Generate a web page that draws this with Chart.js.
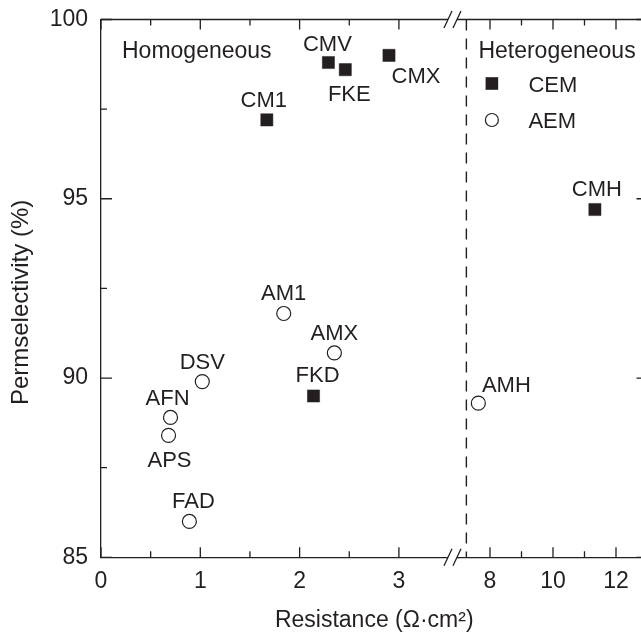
<!DOCTYPE html>
<html>
<head>
<meta charset="utf-8">
<script src="https://cdn.jsdelivr.net/npm/chart.js@4.4.0/dist/chart.umd.min.js"></script>
<style>
html, body { margin: 0; padding: 0; background: #fff; overflow: hidden; }
#wrap { width: 641px; height: 635px; overflow: hidden; position: relative; }
canvas { display: block; }
</style>
</head>
<body>
<div id="wrap"><canvas id="chart" width="660" height="635"></canvas></div>
<script>
// homogeneous membranes (left part of the axis)
const cemNames = ['CM1', 'CMV', 'FKE', 'CMX', 'FKD'];
const cemResistance = [1.67, 2.29, 2.46, 2.90, 2.14];
const cemPerm = [97.2, 98.8, 98.6, 99.0, 89.5];

const aemNames = ['AM1', 'AMX', 'DSV', 'AFN', 'APS', 'FAD'];
const aemResistance = [1.84, 2.35, 1.02, 0.70, 0.68, 0.89];
const aemPerm = [91.8, 90.7, 89.9, 88.9, 88.4, 86.0];

// heterogeneous membranes (right part, after the break)
const hetCemNames = ['CMH'];
const hetCemResistance = [11.33];
const hetCemPerm = [94.7];

const hetAemNames = ['AMH'];
const hetAemResistance = [7.63];
const hetAemPerm = [89.3];

// axis ticks
const xMajorLeft = [0, 1, 2, 3];
const xMinorLeft = [0.5, 1.5, 2.5];
const xMajorRight = [8, 10, 12];
const xMinorRight = [9, 11];
const yMajor = [85, 90, 95, 100];
const yMinor = [87.5, 92.5, 97.5];
const dividerAt = 7.25;

const ink = '#231f20';
const family = 'Liberation Sans, Arial, sans-serif';

// where each name sits relative to its marker: [dx of text centre, dy of baseline]
const labelOffsets = {
	CM1: [-3, -13], CMV: [-1, -12], FKE: [4, 31], CMX: [27, 28], FKD: [4, -14],
	AM1: [0, -13], AMX: [0, -13], DSV: [0, -13], AFN: [-3, -12], APS: [1, 32], FAD: [4, -13],
	CMH: [2, -14], AMH: [28, -11]
};

function pts(xs, ys) {
	return xs.map((x, i) => ({ x: x, y: ys[i] }));
}
function tickList(major, minor) {
	return major.concat(minor).sort((a, b) => a - b).map(v => ({ value: v }));
}

const squareStyle = { pointStyle: 'rect', pointRadius: 8.6, backgroundColor: ink, borderColor: ink, borderWidth: 0.5 };
const circleStyle = { pointStyle: 'circle', pointRadius: 7, backgroundColor: '#fff', borderColor: ink, borderWidth: 1.2 };

const decorations = {
	id: 'decorations',
	beforeDatasetsDraw(chart) {
		const ctx = chart.ctx, a = chart.chartArea;
		const xd = chart.scales.x2.getPixelForValue(dividerAt);
		ctx.save();
		ctx.strokeStyle = ink;
		ctx.lineWidth = 1.4;
		ctx.setLineDash([11, 8]);
		ctx.beginPath();
		ctx.moveTo(xd, a.top);
		ctx.lineTo(xd, a.bottom);
		ctx.stroke();
		ctx.restore();
	},
	afterDraw(chart) {
		const ctx = chart.ctx, a = chart.chartArea;
		const sx = chart.scales.x, sx2 = chart.scales.x2, sy = chart.scales.y;
		ctx.save();
		ctx.strokeStyle = ink;
		ctx.lineWidth = 1.3;
		// top and right frame
		ctx.beginPath();
		ctx.moveTo(a.left, a.top); ctx.lineTo(a.right, a.top);
		ctx.moveTo(a.right, a.top); ctx.lineTo(a.right, a.bottom);
		ctx.stroke();
		// inward tick marks
		ctx.beginPath();
		[[sx, xMajorLeft], [sx2, xMajorRight]].forEach(([s, major]) => {
			s.ticks.forEach(t => {
				const p = s.getPixelForValue(t.value);
				const len = major.includes(t.value) ? 10 : 6;
				ctx.moveTo(p, a.bottom); ctx.lineTo(p, a.bottom - len);
				ctx.moveTo(p, a.top); ctx.lineTo(p, a.top + len);
			});
		});
		sy.ticks.forEach(t => {
			const p = sy.getPixelForValue(t.value);
			const len = yMajor.includes(t.value) ? 11 : 6;
			ctx.moveTo(a.left, p); ctx.lineTo(a.left + len, p);
			ctx.moveTo(a.right, p); ctx.lineTo(a.right - len, p);
		});
		ctx.stroke();
		// axis break
		const jb = sx.right;
		[a.top, a.bottom].forEach(y => {
			ctx.fillStyle = '#fff';
			ctx.fillRect(jb - 10.5, y - 2, 9, 4);
			ctx.beginPath();
			[jb - 10.5, jb - 1.5].forEach(c => {
				ctx.moveTo(c - 4, y + 8.5);
				ctx.lineTo(c + 4, y - 8.5);
			});
			ctx.stroke();
		});
		// y axis title, sitting a little below the middle as in the source figure
		ctx.fillStyle = ink;
		ctx.save();
		ctx.translate(21, (a.top + a.bottom) / 2 + 14);
		ctx.rotate(-Math.PI / 2);
		ctx.font = '24px ' + family;
		ctx.textAlign = 'center';
		ctx.textBaseline = 'middle';
		ctx.fillText('Permselectivity (%)', 0, 0);
		ctx.restore();
		// marker names
		ctx.font = '22px ' + family;
		ctx.textAlign = 'center';
		ctx.textBaseline = 'alphabetic';
		chart.data.datasets.forEach((ds, i) => {
			const meta = chart.getDatasetMeta(i);
			meta.data.forEach((el, j) => {
				const name = ds.names[j];
				const off = labelOffsets[name] || [0, -13];
				ctx.fillText(name, el.x + off[0], el.y + off[1]);
			});
		});
		// region captions and legend
		const xd = sx2.getPixelForValue(dividerAt);
		ctx.textAlign = 'left';
		ctx.font = '23px ' + family;
		ctx.fillText('Homogeneous', a.left + 21, a.top + 38);
		ctx.fillText('Heterogeneous', xd + 12, a.top + 38);
		ctx.font = '22px ' + family;
		const lx = xd + 25.5;
		ctx.fillRect(lx - 6.3, a.top + 64 - 6.3, 12.6, 12.6);
		ctx.fillText(chart.data.datasets[0].label, xd + 62, a.top + 72);
		ctx.beginPath();
		ctx.lineWidth = 1.2;
		ctx.arc(lx, a.top + 100.5, 6.5, 0, Math.PI * 2);
		ctx.fillStyle = '#fff';
		ctx.fill();
		ctx.stroke();
		ctx.fillStyle = ink;
		ctx.fillText(chart.data.datasets[1].label, xd + 62, a.top + 108.5);
		ctx.restore();
	}
};

const tickFont = { family: family, size: 23 };
const xCommon = {
	type: 'linear',
	position: 'bottom',
	stack: 'resistance',
	grid: { display: false, drawTicks: false },
	border: { color: ink, width: 1.3 },
	ticks: { padding: 11, color: ink, font: tickFont, autoSkip: false, maxRotation: 0 }
};

new Chart(document.getElementById('chart'), {
	type: 'scatter',
	data: {
		datasets: [
			Object.assign({ label: 'CEM', names: cemNames, data: pts(cemResistance, cemPerm), xAxisID: 'x' }, squareStyle),
			Object.assign({ label: 'AEM', names: aemNames, data: pts(aemResistance, aemPerm), xAxisID: 'x' }, circleStyle),
			Object.assign({ label: 'CEM', names: hetCemNames, data: pts(hetCemResistance, hetCemPerm), xAxisID: 'x2' }, squareStyle),
			Object.assign({ label: 'AEM', names: hetAemNames, data: pts(hetAemResistance, hetAemPerm), xAxisID: 'x2' }, circleStyle)
		]
	},
	options: {
		responsive: false,
		animation: false,
		layout: { padding: { left: 0, right: 12.5, top: 19.5, bottom: 0 } },
		plugins: {
			legend: { display: false },
			tooltip: { enabled: false },
			title: {
				display: true,
				position: 'bottom',
				fullSize: false,
				text: 'Resistance (Ω·cm²)',
				color: ink,
				font: { family: family, size: 23, weight: 'normal' },
				padding: { top: 0, bottom: 0.5 }
			}
		},
		scales: {
			x: Object.assign({}, xCommon, {
				min: 0, max: 3.6, stackWeight: 357.5,
				afterBuildTicks: s => { s.ticks = tickList(xMajorLeft, xMinorLeft); },
				ticks: Object.assign({}, xCommon.ticks, { callback: v => xMajorLeft.includes(v) ? String(v) : '' })
			}),
			x2: Object.assign({}, xCommon, {
				min: 7, max: 13, stackWeight: 189,
				afterBuildTicks: s => { s.ticks = tickList(xMajorRight, xMinorRight); },
				ticks: Object.assign({}, xCommon.ticks, { callback: v => xMajorRight.includes(v) ? String(v) : '' })
			}),
			y: {
				type: 'linear',
				position: 'left',
				min: 85, max: 100,
				afterBuildTicks: s => { s.ticks = tickList(yMajor, yMinor); },
				afterFit: s => { s.width = 101; s.paddingTop = 0; s.paddingBottom = 0; },
				grid: { display: false, drawTicks: false },
				border: { color: ink, width: 1.3 },
				ticks: { padding: 13, color: ink, font: tickFont, autoSkip: false,
					callback: v => yMajor.includes(v) ? String(v) : '' }
			}
		}
	},
	plugins: [decorations]
});
</script>
</body>
</html>
